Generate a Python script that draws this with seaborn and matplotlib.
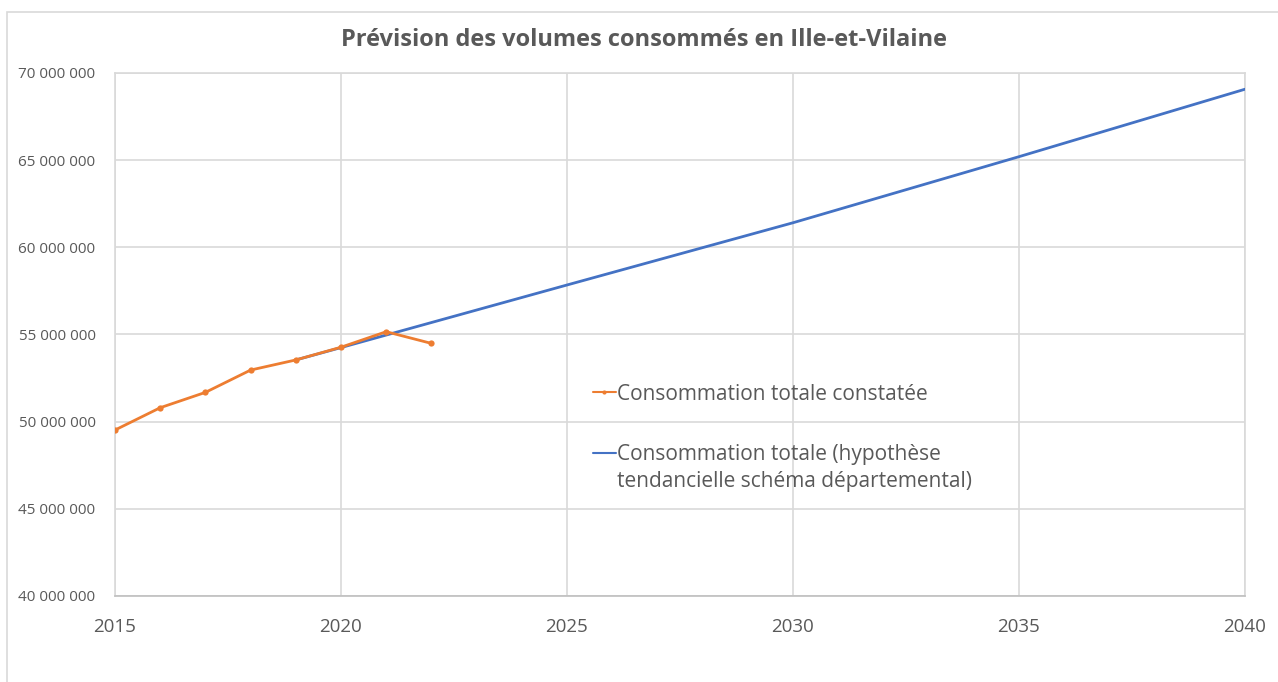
import numpy as np
import pandas as pd
import matplotlib
matplotlib.use("Agg")
import matplotlib.pyplot as plt
import seaborn as sns
from matplotlib.ticker import FuncFormatter, MultipleLocator
from matplotlib.lines import Line2D
from matplotlib.patches import Rectangle

# ---- data ----
years_obs = [2015, 2016, 2017, 2018, 2019, 2020, 2021, 2022]
conso_obs = [49.52e6, 50.80e6, 51.68e6, 52.96e6, 53.54e6, 54.27e6, 55.16e6, 54.49e6]
years_trend = [2019, 2020, 2025, 2030, 2035, 2040]
conso_trend = [53.54e6, 54.25e6, 57.84e6, 61.41e6, 65.20e6, 69.07e6]
title = "Prévision des volumes consommés en Ille-et-Vilaine"
label_obs = "Consommation totale constatée"
label_trend_1 = "Consommation totale (hypothèse"
label_trend_2 = "tendancielle schéma départemental)"
x_ticks = [2015, 2020, 2025, 2030, 2035, 2040]

ORANGE = "#ED7D31"
BLUE = "#4472C4"
TXT = "#595959"
GRID = "#D9D9D9"

sns.set_theme(style="white")
plt.rcParams["font.family"] = ["Open Sans", "DejaVu Sans"]

fig = plt.figure(figsize=(12.78, 6.82), dpi=100)
ax = fig.add_axes([115 / 1278, 1 - 596 / 682, 1130 / 1278, 523 / 682])

df_obs = pd.DataFrame({"annee": years_obs, "conso": conso_obs})
df_trend = pd.DataFrame({"annee": years_trend, "conso": conso_trend})

sns.lineplot(data=df_trend, x="annee", y="conso", ax=ax, color=BLUE, linewidth=2.0, zorder=3)
sns.lineplot(data=df_obs, x="annee", y="conso", ax=ax, color=ORANGE, linewidth=2.0,
             marker="o", markersize=4.5, markeredgewidth=0, zorder=4)

ax.set_xlim(2015, 2040)
ax.set_ylim(40e6, 70e6)
ax.set_xticks(x_ticks)
ax.yaxis.set_major_locator(MultipleLocator(5e6))
ax.yaxis.set_major_formatter(FuncFormatter(lambda v, p: f"{v:,.0f}".replace(",", " ")))
ax.set_xlabel("")
ax.set_ylabel("")
ax.grid(True, color=GRID, linewidth=1.2)
ax.set_axisbelow(True)
for s in ax.spines.values():
    s.set_color(GRID)
    s.set_linewidth(1.2)
ax.spines["bottom"].set_color("#BFBFBF")
ax.tick_params(axis="x", length=0, pad=16, labelsize=13.5, labelcolor=TXT)
ax.tick_params(axis="y", length=0, pad=14, labelsize=11, labelcolor=TXT)

fig.text(644 / 1278, 1 - 40 / 682, title, ha="center", va="center",
         fontsize=17, fontweight="bold", color=TXT)

# legend
h1 = Line2D([], [], color=ORANGE, lw=1.5, marker="o", markersize=3, markeredgewidth=0)
leg1 = ax.legend(handles=[h1], labels=[label_obs], loc="center left",
                 bbox_to_anchor=((593 - 115) / 1130, (596 - 394) / 523),
                 frameon=False, handlelength=1.1, handletextpad=0.05,
                 fontsize=15, labelcolor=TXT, borderpad=0, borderaxespad=0)
ax.add_artist(leg1)
h2 = Line2D([], [], color=BLUE, lw=1.5)
h3 = Line2D([], [], alpha=0)
leg2 = ax.legend(handles=[h2, h3], labels=[label_trend_1, label_trend_2], loc="center left",
                 bbox_to_anchor=((593 - 115) / 1130, (596 - 468) / 523),
                 frameon=False, handlelength=1.1, handletextpad=0.05,
                 fontsize=15, labelcolor=TXT, borderpad=0, borderaxespad=0,
                 labelspacing=0.3)

# chart border
fig.patches.append(Rectangle((7 / 1278, -0.1), 1.2, 1 - 12 / 682 + 0.1,
                             transform=fig.transFigure, fill=False,
                             edgecolor=GRID, linewidth=1.2))

fig.savefig("out.png", dpi=100)
